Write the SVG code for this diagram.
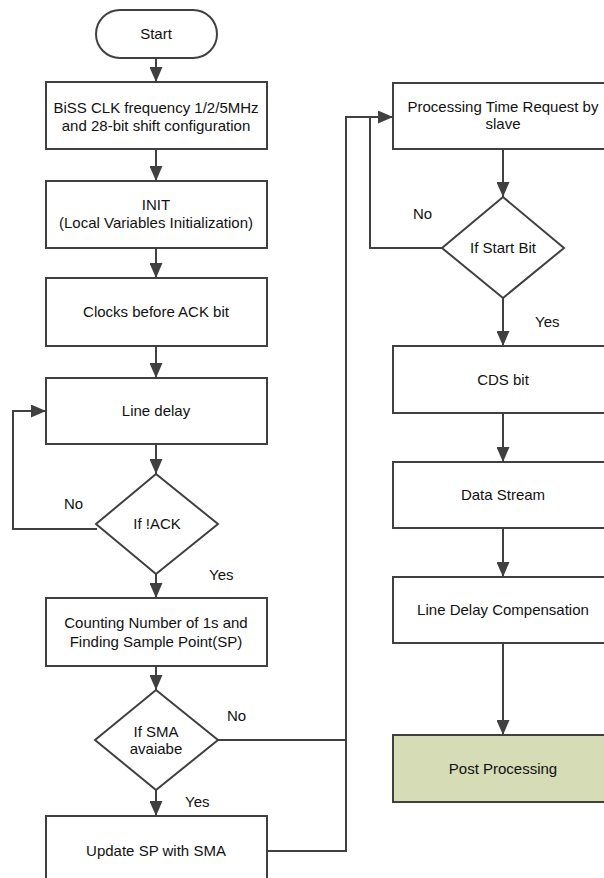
<svg xmlns="http://www.w3.org/2000/svg" width="604" height="878" viewBox="0 0 604 878">
<style>
.n{fill:#fff;stroke:#404040;stroke-width:2}
.g{fill:#d5dcb6;stroke:#404040;stroke-width:2}
.t{font-family:"Liberation Sans",Arial,sans-serif;font-size:15px;fill:#111;text-anchor:middle}
.l{font-family:"Liberation Sans",Arial,sans-serif;font-size:15px;fill:#111}
.c{fill:none;stroke:#404040;stroke-width:2}
</style>
<defs>
<marker id="ah" markerUnits="userSpaceOnUse" markerWidth="15" markerHeight="13" refX="15" refY="6.5" orient="auto">
<path d="M0,0 L15,6.5 L0,13 z" fill="#404040"/>
</marker>
</defs>
<rect width="604" height="878" fill="#fff"/>
<g id="connectors">
<path class="c" d="M156,58 V82" marker-end="url(#ah)"/>
<path class="c" d="M156,149 V181" marker-end="url(#ah)"/>
<path class="c" d="M156,248 V278" marker-end="url(#ah)"/>
<path class="c" d="M156,346 V378" marker-end="url(#ah)"/>
<path class="c" d="M156,444 V474" marker-end="url(#ah)"/>
<path class="c" d="M97,529 H13 V411 H46" marker-end="url(#ah)"/>
<path class="c" d="M156,574 V598" marker-end="url(#ah)"/>
<path class="c" d="M156,666 V690" marker-end="url(#ah)"/>
<path class="c" d="M218,740 H346"/>
<path class="c" d="M156,790 V816" marker-end="url(#ah)"/>
<path class="c" d="M267,851 H346 V117 H393" marker-end="url(#ah)"/>
<path class="c" d="M503,149 V197" marker-end="url(#ah)"/>
<path class="c" d="M442,248 H370 V117"/>
<path class="c" d="M503,298 V346" marker-end="url(#ah)"/>
<path class="c" d="M503,413 V462" marker-end="url(#ah)"/>
<path class="c" d="M503,528 V577" marker-end="url(#ah)"/>
<path class="c" d="M503,643 V735" marker-end="url(#ah)"/>
<text class="l" x="64" y="509">No</text>
<text class="l" x="209" y="580">Yes</text>
<text class="l" x="227" y="721">No</text>
<text class="l" x="185" y="807">Yes</text>
<text class="l" x="413" y="219">No</text>
<text class="l" x="535" y="327">Yes</text>
</g>
<g id="start"><rect class="n" x="96" y="10" width="121" height="48" rx="24"/><text class="t" x="156" y="39">Start</text></g>
<g id="config"><rect class="n" x="46" y="82" width="221" height="67"/><text class="t" x="156" y="113">BiSS CLK frequency 1/2/5MHz</text><text class="t" x="156" y="131">and 28-bit shift configuration</text></g>
<g id="init"><rect class="n" x="46" y="181" width="221" height="67"/><text class="t" x="156" y="210">INIT</text><text class="t" x="156" y="228">(Local Variables Initialization)</text></g>
<g id="clocks"><rect class="n" x="46" y="278" width="221" height="68"/><text class="t" x="156" y="317">Clocks before ACK bit</text></g>
<g id="linedelay"><rect class="n" x="46" y="378" width="221" height="66"/><text class="t" x="156" y="416">Line delay</text></g>
<g id="ifack"><polygon class="n" points="156,474 218,524 156,574 96,524"/><text class="t" x="157" y="529">If !ACK</text></g>
<g id="counting"><rect class="n" x="46" y="598" width="221" height="68"/><text class="t" x="156" y="628">Counting Number of 1s and</text><text class="t" x="156" y="647">Finding Sample Point(SP)</text></g>
<g id="ifsma"><polygon class="n" points="156,690 218,740 156,790 95,740"/><text class="t" x="156" y="737">If SMA</text><text class="t" x="156" y="754">avaiabe</text></g>
<g id="update"><rect class="n" x="46" y="816" width="221" height="70"/><text class="t" x="156" y="856">Update SP with SMA</text></g>
<g id="processing"><rect class="n" x="393" y="83" width="221" height="66"/><text class="t" x="503" y="112">Processing Time Request by</text><text class="t" x="503" y="129">slave</text></g>
<g id="ifstart"><polygon class="n" points="503,197 564,248 503,298 442,248"/><text class="t" x="503" y="253">If Start Bit</text></g>
<g id="cds"><rect class="n" x="393" y="346" width="221" height="67"/><text class="t" x="503" y="385">CDS bit</text></g>
<g id="datastream"><rect class="n" x="393" y="462" width="221" height="66"/><text class="t" x="503" y="500">Data Stream</text></g>
<g id="ldc"><rect class="n" x="393" y="577" width="221" height="66"/><text class="t" x="503" y="615">Line Delay Compensation</text></g>
<g id="post"><rect class="g" x="393" y="735" width="221" height="67"/><text class="t" x="503" y="774">Post Processing</text></g>
</svg>
